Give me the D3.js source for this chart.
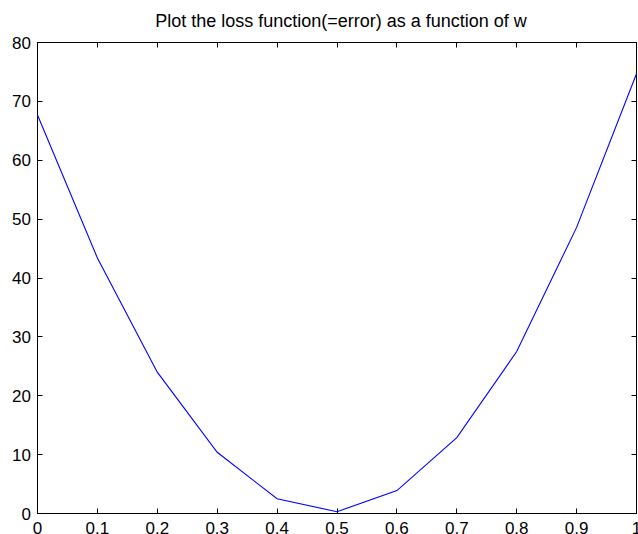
<!DOCTYPE html>
<html>
<head>
<meta charset="utf-8">
<script src="https://cdn.jsdelivr.net/npm/d3@7"></script>
<style>
  html, body { margin: 0; padding: 0; background: #fff; }
  svg { display: block; }
  text { font-family: "Liberation Sans", Arial, sans-serif; fill: #000; }
</style>
</head>
<body>
<svg id="chart" width="638" height="534"></svg>
<script>
// Loss (error) sampled over the weight w
const wValues = [0, 0.1, 0.2, 0.3, 0.4, 0.5, 0.6, 0.7, 0.8, 0.9, 1.0];
const lossValues = [67.7, 43.4, 24.0, 10.4, 2.5, 0.3, 3.9, 12.9, 27.5, 48.6, 74.7];
const xTicks = [0, 0.1, 0.2, 0.3, 0.4, 0.5, 0.6, 0.7, 0.8, 0.9, 1];
const yTicks = [0, 10, 20, 30, 40, 50, 60, 70, 80];
const titleText = "Plot the loss function(=error) as a function of w";

(function () {
  const svg = d3.select("#chart");
  const plotLeft = 37.5, plotRight = 636.5, plotTop = 42.5, plotBottom = 513.5;
  const tickLen = 5;

  const x = d3.scaleLinear().domain([0, 1]).range([plotLeft, plotRight]);
  const y = d3.scaleLinear().domain([0, 80]).range([plotBottom, plotTop]);

  // Box around the axes
  svg.append("rect")
    .attr("x", plotLeft).attr("y", plotTop)
    .attr("width", plotRight - plotLeft).attr("height", plotBottom - plotTop)
    .attr("fill", "none").attr("stroke", "#000").attr("stroke-width", 1);

  // Inward ticks on all four sides
  const tickG = svg.append("g").attr("stroke", "#000").attr("stroke-width", 1);
  xTicks.forEach(t => {
    const px = Math.round(x(t) - 0.5) + 0.5;
    tickG.append("line").attr("x1", px).attr("x2", px).attr("y1", plotBottom).attr("y2", plotBottom - tickLen);
    tickG.append("line").attr("x1", px).attr("x2", px).attr("y1", plotTop).attr("y2", plotTop + tickLen);
  });
  yTicks.forEach(t => {
    const py = Math.round(y(t) - 0.5) + 0.5;
    tickG.append("line").attr("x1", plotLeft).attr("x2", plotLeft + tickLen).attr("y1", py).attr("y2", py);
    tickG.append("line").attr("x1", plotRight).attr("x2", plotRight - tickLen).attr("y1", py).attr("y2", py);
  });

  // Tick labels
  svg.append("g").selectAll("text").data(xTicks).join("text")
    .attr("x", d => x(d))
    .attr("y", 534)
    .attr("text-anchor", "middle")
    .attr("font-size", 17)
    .text(d => String(d));

  svg.append("g").selectAll("text").data(yTicks).join("text")
    .attr("x", 31)
    .attr("y", d => y(d) + 6)
    .attr("text-anchor", "end")
    .attr("font-size", 17)
    .text(d => d);

  // Title
  svg.append("text")
    .attr("x", 341)
    .attr("y", 27)
    .attr("text-anchor", "middle")
    .attr("font-size", 18)
    .text(titleText);

  // Loss curve
  const line = d3.line().x((d, i) => x(wValues[i])).y(d => y(d));
  svg.append("path")
    .datum(lossValues)
    .attr("d", line)
    .attr("fill", "none")
    .attr("stroke", "#0000ff")
    .attr("stroke-width", 1.1);
})();
</script>
</body>
</html>
